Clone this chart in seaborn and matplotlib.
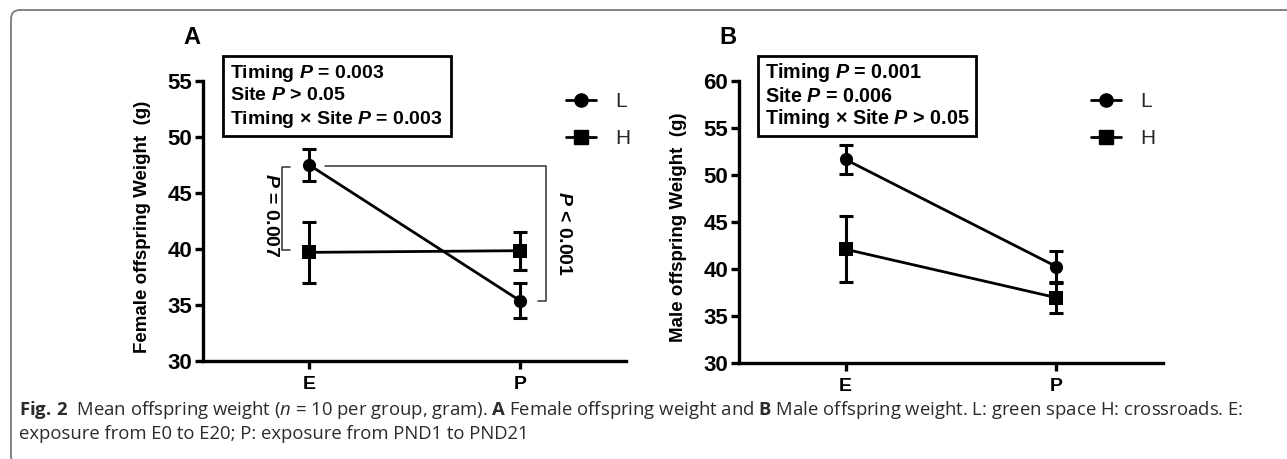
import numpy as np
import pandas as pd
import matplotlib
matplotlib.use("Agg")
import matplotlib.pyplot as plt
import seaborn as sns
from matplotlib.patches import Rectangle, FancyBboxPatch
from matplotlib.lines import Line2D

# ---------------- data ----------------
timings = ["E", "P"]
series = ["L", "H"]
female_L = [47.5, 35.4]
female_L_err = [1.4, 1.55]
female_H = [39.7, 39.85]
female_H_err = [2.7, 1.7]
male_L = [51.65, 40.25]
male_L_err = [1.5, 1.65]
male_H = [42.1, 36.95]
male_H_err = [3.5, 1.6]
female_yticks = [30, 35, 40, 45, 50, 55]
male_yticks = [30, 35, 40, 45, 50, 55, 60]
female_stats = ["Timing $\\mathbfit{P}$ = 0.003",
                "Site $\\mathbfit{P}$ > 0.05",
                "Timing \u00d7 Site $\\mathbfit{P}$ = 0.003"]
male_stats = ["Timing $\\mathbfit{P}$ = 0.001",
              "Site $\\mathbfit{P}$ = 0.006",
              "Timing \u00d7 Site $\\mathbfit{P}$ > 0.05"]
pair_E = "$\\mathbfit{P}$ = 0.007"
pair_L = "$\\mathbfit{P}$ < 0.001"
caption1 = ("$\\mathbf{Fig.\\,2}$  Mean offspring weight ($n$ = 10 per group, gram). "
            "$\\mathbf{A}$ Female offspring weight and $\\mathbf{B}$ Male offspring weight. "
            "L: green space H: crossroads. E:")
caption2 = "exposure from E0 to E20; P: exposure from PND1 to PND21"

sns.set_theme(style="ticks")
plt.rcParams["font.family"] = ["Liberation Sans", "DejaVu Sans"]
plt.rcParams["mathtext.fontset"] = "custom"
plt.rcParams["mathtext.rm"] = "Open Sans"
plt.rcParams["mathtext.it"] = "Open Sans:italic"
plt.rcParams["mathtext.bf"] = "Open Sans:bold"
plt.rcParams["mathtext.bfit"] = "Liberation Sans:italic:bold"

W, H = 1287, 459
fig = plt.figure(figsize=(W / 100, H / 100), dpi=100)
R = fig.canvas.get_renderer()


def fx(px):
    return px / W


def fy(py):
    return 1 - py / H


def fit_scale(texts, target_px, vertical=False):
    ext = [t.get_window_extent(R) for t in texts]
    size = max(e.height if vertical else e.width for e in ext)
    k = target_px / size
    for t in texts:
        t.set_fontsize(t.get_fontsize() * k)
    return k


def make_df(Lv, Hv):
    rows = []
    for s, vals in (("L", Lv), ("H", Hv)):
        for i, t in enumerate(timings):
            rows.append({"x": i, "timing": t, "group": s, "weight": vals[i]})
    return pd.DataFrame(rows)


def panel(rect_px, Lv, Le, Hv, He, yticks, ylabel, letter, stats, box_px, legend_px,
          stat_width):
    l, r, t, b = rect_px
    ax = fig.add_axes([fx(l), fy(b), fx(r) - fx(l), fy(t) - fy(b)])
    df = make_df(Lv, Hv)
    sns.lineplot(data=df, x="x", y="weight", style="group", style_order=series,
                 markers={"L": "o", "H": "s"}, dashes=False, color="black",
                 linewidth=2.0, markersize=9.5, markeredgewidth=0, ax=ax,
                 legend=False, zorder=3)
    ax.errorbar([0, 1], Lv, yerr=Le, fmt="none", ecolor="black", elinewidth=2.2,
                capsize=5, capthick=2.2, zorder=4)
    ax.errorbar([0, 1], Hv, yerr=He, fmt="none", ecolor="black", elinewidth=2.2,
                capsize=5, capthick=2.2, zorder=4)
    ax.set_xlim(-0.505, 1.505)
    ax.set_ylim(yticks[0], yticks[-1])
    ax.set_yticks(yticks)
    ax.set_xticks([0, 1])
    ax.set_xticklabels(timings)
    for sp in ("top", "right"):
        ax.spines[sp].set_visible(False)
    for sp in ("left", "bottom"):
        ax.spines[sp].set_linewidth(2.4)
        ax.spines[sp].set_color("black")
    ax.tick_params(axis="both", direction="out", length=6, width=2.4,
                   colors="black", labelsize=16, pad=2)
    ax.tick_params(axis="x", labelsize=14, pad=5)
    for lab in ax.get_xticklabels() + ax.get_yticklabels():
        lab.set_fontweight("bold")
    ax.set_xlabel("")
    ax.set_ylabel(ylabel, fontsize=13.5, fontweight="bold", color="black")
    ax.yaxis.set_label_coords(-0.123, 0.48)
    # panel letter
    fig.text(fx(l - 11), fy(37), letter, fontsize=17, fontweight="bold",
             ha="center", va="center", color="black")
    # stats box
    bl, br, bt, bb = box_px
    fig.patches.append(Rectangle((fx(bl), fy(bb)), fx(br) - fx(bl), fy(bt) - fy(bb),
                                 transform=fig.transFigure, fill=False,
                                 edgecolor="black", linewidth=2.0))
    txts = []
    for k, s in enumerate(stats):
        txts.append(fig.text(fx(bl + 7), fy(73 + 23 * k), s, fontsize=13,
                             fontweight="bold", ha="left", va="center", color="black"))
    fit_scale(txts, stat_width)
    # legend
    handles = [Line2D([], [], color="black", marker="o", markersize=9.5, linewidth=2.0),
               Line2D([], [], color="black", marker="s", markersize=9.5, linewidth=2.0)]
    lx, ly = legend_px
    fig.legend(handles, series, loc="center left", bbox_to_anchor=(fx(lx), fy(ly)),
               bbox_transform=fig.transFigure, frameon=False, fontsize=15,
               handlelength=1.45, handletextpad=0.9, labelspacing=0.85,
               borderpad=0, borderaxespad=0)
    return ax


axA = panel((203, 626, 81, 361), female_L, female_L_err, female_H, female_H_err,
            female_yticks, "Female offspring Weight  (g)", "A", female_stats,
            (223, 451, 56, 136), (566, 120), 212)
axB = panel((739, 1163, 81, 363), male_L, male_L_err, male_H, male_H_err,
            male_yticks, "Male offspring Weight  (g)", "B", male_stats,
            (758, 976, 56, 136), (1091, 120), 204)

# comparison brackets in panel A
bk = dict(color="#333333", linewidth=1.1, clip_on=False, zorder=2)
axA.plot([-0.09, -0.128, -0.128, -0.09], [female_L[0] - 0.2, female_L[0] - 0.2,
                                          female_H[0] + 0.2, female_H[0] + 0.2], **bk)
axA.plot([0.075, 1.124, 1.124, 1.086], [female_L[0] - 0.1, female_L[0] - 0.1,
                                        female_L[1], female_L[1]], **bk)
tE = axA.text(-0.186, 43.0, pair_E, rotation=-90, fontsize=13, fontweight="bold",
              ha="center", va="center", color="black")
tL = axA.text(1.21, 41.4, pair_L, rotation=-90, fontsize=13, fontweight="bold",
              ha="center", va="center", color="black")
fit_scale([tE, tL], 85, vertical=True)

# caption
c1 = fig.text(fx(19), fy(415), caption1, fontsize=11, family="Open Sans",
              color="#2b2b2b", ha="left", va="baseline")
c2 = fig.text(fx(19), fy(439), caption2, fontsize=11, family="Open Sans",
              color="#2b2b2b", ha="left", va="baseline")
k = fit_scale([c1], 1220)
c2.set_fontsize(c2.get_fontsize() * k)

# outer rounded border
fig.patches.append(FancyBboxPatch((0.11, -0.06), 13.5, 4.49 + 0.06,
                                  boxstyle="round,pad=0,rounding_size=0.09",
                                  transform=fig.dpi_scale_trans, fill=False,
                                  edgecolor="#7a7a7a", linewidth=1.3))

fig.savefig("out.png", dpi=100)
